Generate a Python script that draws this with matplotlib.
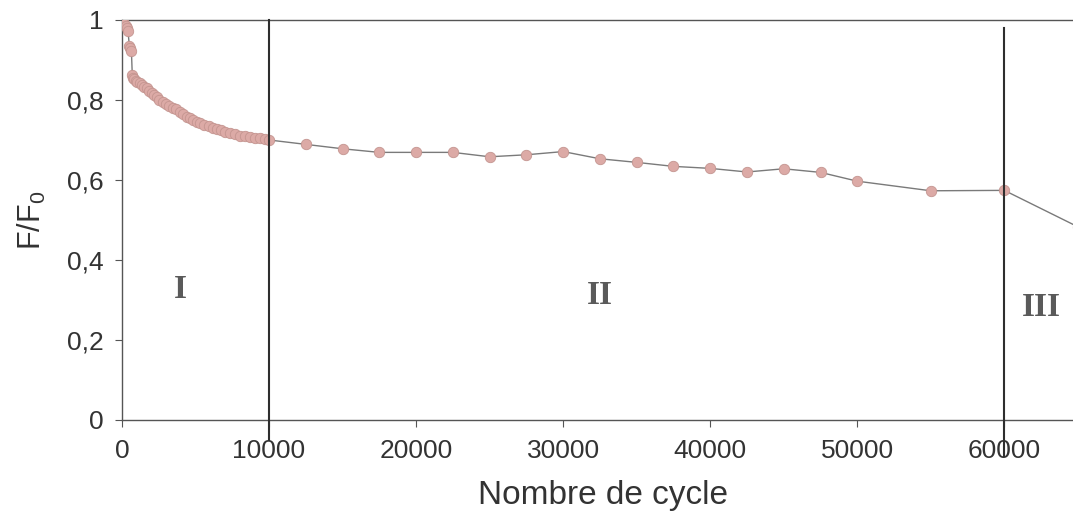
import matplotlib
matplotlib.use("Agg")
import matplotlib.pyplot as plt
from matplotlib.ticker import FuncFormatter

# Stage I: rapid drop during the first 10000 cycles
cycles_stage1 = [0, 80, 150, 250, 320, 410, 500, 560, 640, 700, 760, 850, 950,
                 1050, 1200, 1350, 1500, 1680, 1850, 2020, 2200, 2360, 2550,
                 2800, 3000, 3200, 3500, 3700, 3950, 4150, 4400, 4600, 4850,
                 5100, 5300, 5600, 5900, 6200, 6450, 6700, 7000, 7350, 7700,
                 8000, 8350, 8700, 9050, 9400, 9700, 10000]
ratio_stage1 = [1.000, 0.995, 0.990, 0.985, 0.980, 0.972, 0.935, 0.930, 0.922,
                0.862, 0.856, 0.852, 0.848, 0.845, 0.842, 0.838, 0.833, 0.829,
                0.823, 0.817, 0.812, 0.807, 0.801, 0.796, 0.790, 0.786, 0.781,
                0.777, 0.769, 0.764, 0.758, 0.755, 0.751, 0.746, 0.742, 0.738,
                0.735, 0.731, 0.728, 0.725, 0.721, 0.717, 0.714, 0.711, 0.709,
                0.707, 0.705, 0.704, 0.703, 0.700]

# Stages II and III: slow decline, then final drop
cycles_stage2 = [12500, 15000, 17500, 20000, 22500, 25000, 27500, 30000,
                 32500, 35000, 37500, 40000, 42500, 45000, 47500, 50000,
                 55000, 60000, 65000]
ratio_stage2 = [0.689, 0.678, 0.669, 0.669, 0.669, 0.658, 0.663, 0.671,
                0.653, 0.644, 0.634, 0.629, 0.620, 0.628, 0.619, 0.597,
                0.573, 0.574, 0.483]

stage_bounds = [10000, 60000]
stage_names = ["I", "II", "III"]
stage_label_x = [4000, 32500, 62500]
stage_label_y = [0.325, 0.31, 0.28]

x_ticks = [0, 10000, 20000, 30000, 40000, 50000, 60000]
y_ticks = [0, 0.2, 0.4, 0.6, 0.8, 1.0]

cycles = cycles_stage1 + cycles_stage2
ratio = ratio_stage1 + ratio_stage2

fig = plt.figure(figsize=(10.73, 5.19), dpi=100)
ax = fig.add_axes([0.1137, 0.1908, 0.8963, 0.7707])

axis_col = "#555555"
ax.plot(cycles, ratio, color="#7a7a7a", lw=1.0, marker="o", markersize=7.5,
        markerfacecolor="#dcaaa6", markeredgecolor="#c49590",
        markeredgewidth=0.6, zorder=3)

ax.set_xlim(0, 65400)
ax.set_ylim(0, 1)

for xb, ylow, yhigh in zip(stage_bounds, [-0.05, -0.09], [1.0, 0.98]):
    ax.plot([xb, xb], [ylow, yhigh], color="#2e2e2e", lw=1.5,
            clip_on=False, zorder=4)

for name, lx, ly in zip(stage_names, stage_label_x, stage_label_y):
    ax.text(lx, ly, name, fontsize=24, fontweight="bold",
            family="Liberation Serif", color="#5a5a5a",
            ha="center", va="center")

ax.set_xticks(x_ticks)
ax.set_yticks(y_ticks)
ax.yaxis.set_major_formatter(
    FuncFormatter(lambda v, p: "0" if v == 0 else ("1" if v == 1 else f"{v:.1f}".replace(".", ","))))
ax.xaxis.set_major_formatter(FuncFormatter(lambda v, p: f"{int(v)}"))

for side in ["left", "bottom", "top"]:
    ax.spines[side].set_color(axis_col)
    ax.spines[side].set_linewidth(1.0)
ax.spines["right"].set_visible(False)

ax.tick_params(axis="both", direction="out", length=5, width=0.8,
               color=axis_col, labelcolor="#333333", labelsize=19,
               labelfontfamily="Liberation Sans")
ax.tick_params(axis="x", pad=9)
ax.tick_params(axis="y", pad=8)

ax.set_xlabel("Nombre de cycle", fontsize=24, family="Liberation Sans",
              color="#333333", labelpad=12)
ax.set_ylabel("F/F$_{\\mathregular{0}}$", fontsize=22, family="Liberation Sans",
              color="#333333", labelpad=14)

fig.savefig("out.png", dpi=100)
